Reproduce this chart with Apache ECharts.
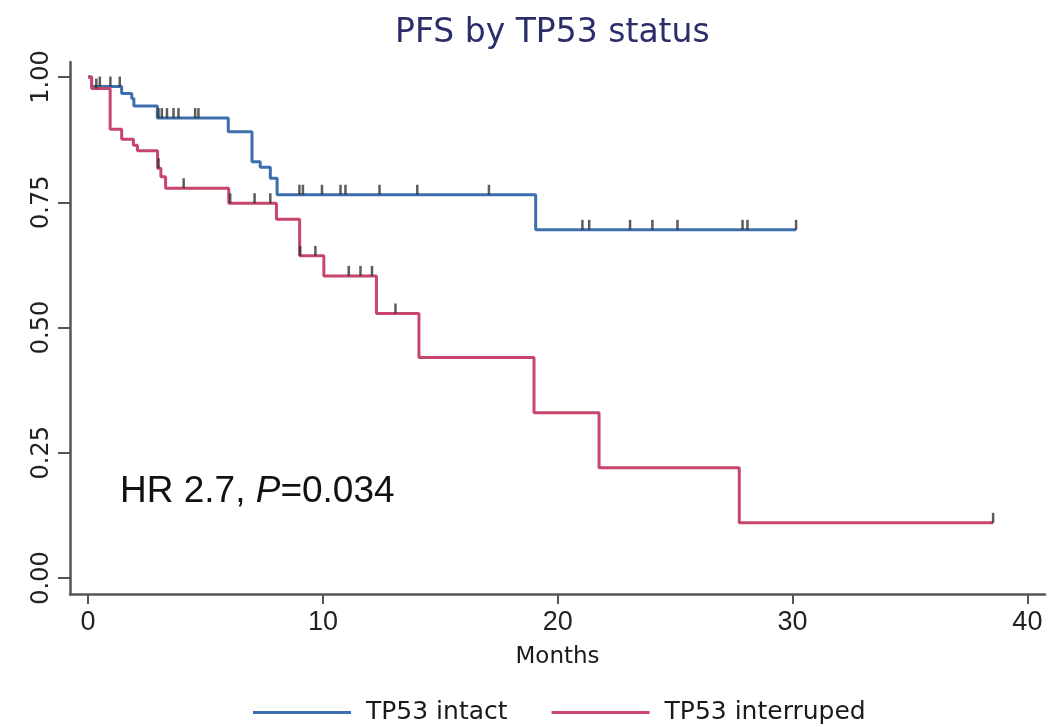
<!DOCTYPE html>
<html>
<head>
<meta charset="utf-8">
<script src="https://cdn.jsdelivr.net/npm/echarts@6/dist/echarts.min.js"></script>
<style>html,body{margin:0;padding:0;background:#fff;}#chart{width:1057px;height:727px;}</style>
</head>
<body>
<div id="chart"></div>
<script>
// Kaplan-Meier step data (months, survival after step)
const intactTimes = [0, 0.15, 1.43, 1.86, 1.95, 2.95, 5.97, 6.98, 7.33, 7.76, 8.05, 19.06, 30.15];
const intactSurv  = [1, 0.981, 0.967, 0.957, 0.942, 0.918, 0.891, 0.831, 0.82, 0.798, 0.765, 0.695, 0.695];
const interTimes = [0, 0.15, 0.94, 1.43, 1.93, 2.1, 2.96, 3.1, 3.3, 5.99, 8.02, 9.01, 10.04, 12.28, 14.09, 18.99, 21.76, 27.73, 38.54];
const interSurv  = [1, 0.977, 0.896, 0.876, 0.864, 0.853, 0.818, 0.801, 0.778, 0.748, 0.716, 0.643, 0.603, 0.528, 0.44, 0.33, 0.22, 0.11, 0.11];
// censoring times
const intactCensor = [0.5, 0.95, 1.35, 3.0, 3.14, 3.36, 3.64, 3.85, 4.56, 4.70, 9.0, 9.15, 9.96, 10.75, 10.96, 12.41, 14.02, 17.07, 21.05, 21.34, 23.08, 24.03, 25.1, 27.87, 28.08, 30.15];
const interCensor = [0.35, 3.0, 4.07, 6.05, 7.09, 7.76, 9.03, 9.68, 11.1, 11.6, 12.09, 13.09, 38.54];
// axis ticks
const xTicks = [0, 10, 20, 30, 40];
const yTicks = [0, 0.25, 0.5, 0.75, 1];
const seriesNames = ['TP53 intact', 'TP53 interruped'];

function zip(a, b) { return a.map((v, i) => [v, b[i]]); }
function survAt(T, S, t) { let s = S[0]; for (let i = 0; i < T.length; i++) { if (T[i] <= t + 1e-9) s = S[i]; } return s; }
function censorPts(C, T, S) { return C.map(t => [t, survAt(T, S, t)]); }

const blue = '#3d6ead', red = '#c8466b';
const chart = echarts.init(document.getElementById('chart'), null, {renderer: 'canvas'});
const axisColor = '#555';
chart.setOption({
  animation: false,
  backgroundColor: '#fff',
  title: {
    text: 'PFS by TP53 status', left: 390, top: 12,
    textStyle: {fontFamily: 'DejaVu Sans', fontSize: 33, fontWeight: 'normal', color: '#2a2d6a'}
  },
  legend: {
    data: seriesNames, top: 695, left: 248,
    icon: 'rect', itemWidth: 98, itemHeight: 3, itemGap: 44,
    textStyle: {fontFamily: 'DejaVu Sans', fontSize: 25, color: '#1a1a1a', padding: [0, 0, 0, 10]}
  },
  grid: {left: 70, right: 12, top: 62, bottom: 133, containLabel: false},
  xAxis: {
    type: 'value', min: -0.77, max: 40.75,
    name: 'Months', nameLocation: 'middle', nameGap: 52,
    nameTextStyle: {fontFamily: 'DejaVu Sans', fontSize: 23, color: '#1a1a1a'},
    axisLine: {show: true, onZero: false, lineStyle: {color: axisColor, width: 2.5}},
    axisTick: {show: true, length: 10, customValues: xTicks, lineStyle: {color: axisColor, width: 2}},
    axisLabel: {customValues: xTicks, fontFamily: 'Liberation Sans', fontSize: 27, color: '#222', margin: 15},
    splitLine: {show: false}
  },
  yAxis: {
    type: 'value', min: -0.032, max: 1.03,
    axisLine: {show: true, onZero: false, lineStyle: {color: axisColor, width: 2.5}},
    axisTick: {show: true, length: 12, customValues: yTicks, lineStyle: {color: axisColor, width: 2}},
    axisLabel: {customValues: yTicks, rotate: 90, fontFamily: 'DejaVu Sans', fontSize: 24, color: '#222', margin: 16,
      formatter: v => v.toFixed(2)},
    splitLine: {show: false}
  },
  graphic: [{
    type: 'text', left: 120, top: 473, z: 10,
    style: {
      text: '{a|HR 2.7, }{b|P}{a|=0.034}',
      rich: {
        a: {fontFamily: 'Liberation Sans', fontSize: 37, fill: '#111'},
        b: {fontFamily: 'Liberation Sans', fontSize: 37, fontStyle: 'italic', fill: '#111'}
      }
    }
  }],
  series: [
    {name: seriesNames[0], type: 'line', step: 'end', showSymbol: false, data: zip(intactTimes, intactSurv),
      lineStyle: {color: blue, width: 3}, itemStyle: {color: blue}, z: 2},
    {name: seriesNames[1], type: 'line', step: 'end', showSymbol: false, data: zip(interTimes, interSurv),
      lineStyle: {color: red, width: 3}, itemStyle: {color: red}, z: 2},
    {name: 'c1', type: 'scatter', data: censorPts(intactCensor, intactTimes, intactSurv), symbol: 'rect',
      symbolSize: [2.5, 10], symbolOffset: [0, -5], itemStyle: {color: '#333'}, z: 3},
    {name: 'c2', type: 'scatter', data: censorPts(interCensor, interTimes, interSurv), symbol: 'rect',
      symbolSize: [2.5, 10], symbolOffset: [0, -5], itemStyle: {color: '#333'}, z: 3}
  ]
});
</script>
</body>
</html>
